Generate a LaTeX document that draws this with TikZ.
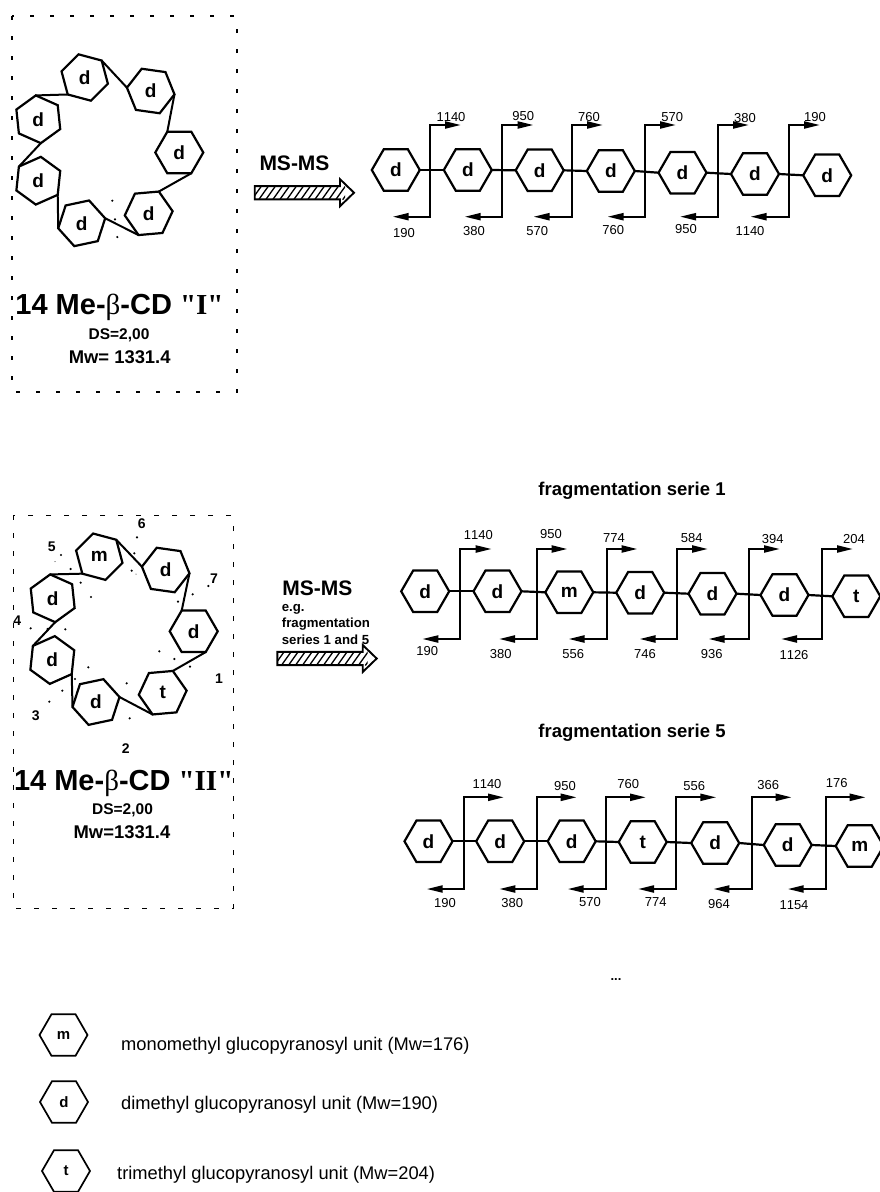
\documentclass[tikz,border=0pt]{standalone}
\usepackage{fontspec}
\setmainfont[Kerning=Off]{Liberation Sans}
\newfontfamily\serifbody{Liberation Serif}
\usetikzlibrary{shapes.geometric,arrows.meta}
\tikzset{
  hexa/.style={regular polygon,regular polygon sides=6,regular polygon rotate=#1,draw=black,line width=2.2pt,
    minimum size=48pt,inner sep=0pt,outer sep=0pt,font=\fontsize{19}{20}\bfseries\selectfont},
  hexa/.default=0,
  legendhex/.style={hexa,line width=1.7pt,font=\fontsize{15}{16}\bfseries\selectfont},
  link/.style={line width=2.2pt,line cap=round},
  branch/.style={line width=2.1pt,-{Triangle[length=16pt,width=7pt]}},
  num/.style={inner sep=0pt,font=\fontsize{13}{15}\selectfont},
  tag/.style={inner sep=0pt,font=\fontsize{14}{16}\bfseries\selectfont},
  maintitle/.style={inner sep=0pt,font=\fontsize{29}{31}\bfseries\selectfont},
  sub/.style={inner sep=0pt,font=\fontsize{15.5}{18}\bfseries\selectfont},
  mw/.style={inner sep=0pt,font=\fontsize{18.4}{20}\bfseries\selectfont},
  msms/.style={inner sep=0pt,font=\fontsize{21}{23}\bfseries\selectfont},
  small/.style={inner sep=0pt,anchor=west,font=\fontsize{13.2}{15}\bfseries\selectfont},
  head/.style={inner sep=0pt,font=\fontsize{18.5}{20}\bfseries\selectfont},
  legendtext/.style={inner sep=0pt,anchor=west,font=\fontsize{18.3}{20}\selectfont},
  ringlink/.style={line width=2pt,line cap=round},
  fat/.style={line width=1.9pt,line join=miter},
}
\newcommand{\mybeta}{{\serifbody\mdseries β}}
\newcommand{\ringlinks}[1]{%
  \draw[ringlink] (#1A.corner 1) -- (#1B.corner 3);
  \draw[ringlink] (#1B.corner 6) -- (#1C.corner 2);
  \draw[ringlink] (#1C.corner 5) -- (#1D.corner 1);
  \draw[ringlink] (#1D.corner 4) -- (#1E.corner 1);
  \draw[ringlink] (#1E.corner 4) -- (#1F.corner 6);
  \draw[ringlink] (#1F.corner 3) -- (#1G.corner 5);
  \draw[ringlink] (#1G.corner 2) -- (#1A.corner 4);
}
\begin{document}
\begin{tikzpicture}[x=1pt,y=-1pt]
\path[use as bounding box,fill=white] (0,0) rectangle (880,1192);

% dotted boxes
\draw[line width=2.2pt,dash pattern=on 4pt off 16pt] (12,16) rectangle (237,392);
\draw[line width=0.9pt,dash pattern=on 5pt off 13pt] (13,515) rectangle (233,908);

% ring I
\foreach \n/\x/\y/\r/\lett in {A/84.7/77.5/-15/d,B/150.7/91/-8/d,C/179.3/152.5/0/d,D/148.7/213.3/5/d,E/81.7/223.3/-48/d,F/38.3/180.7/-36/d,G/38.3/119.3/-24/d}
  \node[hexa=\r] (p\n) at (\x,\y) {\lett};
\ringlinks{p}
\foreach \x/\y in {112.3/200.7,115/219.3,117.3/237}
  \fill (\x,\y) circle (1.2);
\node[maintitle] (t1) at (119.5,307) {14 Me-\mybeta-CD {\serifbody "I"}};
\node[sub] (t1a) at (119,335) {DS=2,00};
\node[mw] (t1b) at (119.7,356.7) {Mw= 1331.4};

% ring II
\foreach \n/\x/\y/\r/\lett in {A/99.3/556.7/-15/m,B/165.7/570/-8/d,C/193.7/631.3/0/d,D/162.7/692.7/5/t,E/96/702/-48/d,F/52.3/660/-36/d,G/52.7/598.3/-24/d}
  \node[hexa=\r] (q\n) at (\x,\y) {\lett};
\ringlinks{q}
\foreach \x/\y in {183/165,212/207,242/248,273/291,411/112,403/160,395/212,578/283,625/258,534/305,478/454,523/477,570/500,380/550,389/655,265/502,225/537,187/572,148/605,92/385,143/387,196/388}
  \fill ({\x/3},{500+\y/3}) circle (1.2);
\foreach \x/\y in {165/185,408/222}
  \fill ({\x/3},{500+\y/3}) circle (0.5);
\foreach \n/\x/\y/\lett in {1/219/679/1,2/125.7/748.3/2,3/35.7/716/3,4/17.3/620.7/4,5/51.7/546.7/5,6/141.7/524/6,7/214/578.3/7}
  \node[tag] (k\n) at (\x,\y) {\lett};
\node[maintitle] (t2) at (123.7,783) {14 Me-\mybeta-CD {\serifbody "II"}};
\node[sub] (t2a) at (122.5,810) {DS=2,00};
\node[mw] (t2b) at (122,831.7) {Mw=1331.4};

% hatched arrows
\foreach \x/\y/\len in {254.7/192.7/85.3,277.3/658.5/85.4}{
  \begin{scope}
    \clip (\x,\y-6.6) rectangle (\x+\len+5,\y+6.6);
    \foreach \d in {0,7,...,98}
      \draw[line width=1.3pt] (\x+\d-3,\y+7) -- (\x+\d+7,\y-7);
  \end{scope}
  \draw[fat] (\x,\y-6.6) -- (\x+\len,\y-6.6) -- (\x+\len,\y-13.5) -- (\x+\len+14,\y) -- (\x+\len,\y+13.5) -- (\x+\len,\y+6.6) -- (\x,\y+6.6) -- cycle;
}
\node[msms] (m1) at (294.5,163) {MS-MS};
\node[msms] (m2) at (317.3,588) {MS-MS};
\node[small] (e1) at (281.7,609) {e.g.};
\node[small] (e2) at (281.7,624.3) {fragmentation};
\node[small] (e3) at (281.7,640) {series 1 and 5};

% chain 1
\foreach \n/\x/\y/\lett in {1/395.8/170/d,2/467.8/170/d,3/539.7/170.3/d,4/610.8/171/d,5/682.5/172.7/d,6/755/174/d,7/827.2/175.3/d}
  \node[hexa] (a\n) at (\x,\y) {\lett};
\foreach \i/\j in {1/2,2/3,3/4,4/5,5/6,6/7}
  \draw[link] (a\i.east) -- (a\j.west);
\foreach \n/\x/\tx/\bx in {1/430.3/461/392.7,2/502.3/533.5/464.7,3/571.7/603/533.5,4/645.3/676/607.5,5/717.7/749/680,6/789/820/750.5}{
  \coordinate (au\n) at (\x,125);
  \coordinate (ad\n) at (\x,216.7);
  \coordinate (ar\n) at (\tx,125);
  \coordinate (al\n) at (\bx,216.7);
  \draw[branch] (au\n) -- (ar\n);
  \draw[branch] (ad\n) -- (al\n);
  \draw[line width=2.1pt,line cap=rect] (au\n) -- (ad\n);
}
\foreach \n/\x/\y/\lett in {1/451/116.7/1140,2/523.3/116/950,3/589/116.7/760,4/672.3/117/570,5/745/117.7/380,6/815/116.7/190,7/404/233.3/190,8/474/231/380,9/537.3/231/570,10/613.3/230/760,11/686/229/950,12/750/231/1140}
  \node[num] (an\n) at (\x,\y) {\lett};

% chain 2
\node[head] (h1) at (632,491) {fragmentation serie 1};
\foreach \n/\x/\y/\lett in {1/425.2/591.3/d,2/497.5/591.3/d,3/569.3/592.3/m,4/640.2/592.7/d,5/712.5/593.7/d,6/784.5/595/d,7/856.3/596.3/t}
  \node[hexa] (b\n) at (\x,\y) {\lett};
\foreach \i/\j in {1/2,2/3,3/4,4/5,5/6,6/7}
  \draw[link] (b\i.east) -- (b\j.west);
\foreach \n/\x/\tx/\bx in {1/460.3/491.7/422.3,2/536.7/567.5/499,3/606.7/637.5/568.5,4/677.3/708/639.5,5/749/780/708.5,6/821.7/853/781}{
  \coordinate (bu\n) at (\x,549);
  \coordinate (bd\n) at (\x,639);
  \coordinate (br\n) at (\tx,549);
  \coordinate (bl\n) at (\bx,639);
  \draw[branch] (bu\n) -- (br\n);
  \draw[branch] (bd\n) -- (bl\n);
  \draw[line width=2.1pt,line cap=rect] (bu\n) -- (bd\n);
}
\foreach \n/\x/\y/\lett in {1/478.3/535.3/1140,2/551/534.3/950,3/614/538/774,4/691.7/538.3/584,5/772.7/539/394,6/854/539.3/204,7/427.3/651.3/190,8/500.7/654.3/380,9/573.3/654.3/556,10/645/654/746,11/711.7/654/936,12/794/655/1126}
  \node[num] (bn\n) at (\x,\y) {\lett};

% chain 3
\node[head] (h2) at (632,733) {fragmentation serie 5};
\foreach \n/\x/\y/\lett in {1/428.5/841.3/d,2/500.2/841.3/d,3/571.7/841.3/d,4/642.7/842/t,5/715.2/843/d,6/787.7/845/d,7/859.7/846/m}
  \node[hexa] (c\n) at (\x,\y) {\lett};
\foreach \i/\j in {1/2,2/3,3/4,4/5,5/6,6/7}
  \draw[link] (c\i.east) -- (c\j.west);
\foreach \n/\x/\tx/\bx in {1/463.7/504/426.7,2/536.7/576.7/499.3,3/605.7/646/567.7,4/675.7/716.3/638,5/751.7/791.7/713.3,6/825.7/865.7/787.7}{
  \coordinate (cu\n) at (\x,797.3);
  \coordinate (cd\n) at (\x,889);
  \coordinate (cr\n) at (\tx,797.3);
  \coordinate (cl\n) at (\bx,889);
  \draw[branch] (cu\n) -- (cr\n);
  \draw[branch] (cd\n) -- (cl\n);
  \draw[line width=2.1pt,line cap=rect] (cu\n) -- (cd\n);
}
\foreach \n/\x/\y/\lett in {1/487/783.7/1140,2/565/785.7/950,3/628.3/783.7/760,4/694.3/785.7/556,5/768.3/785/366,6/836.7/783/176,7/445/903.3/190,8/512.3/903/380,9/590/902/570,10/655.7/902/774,11/719/903.7/964,12/794/905.3/1154}
  \node[num] (cn\n) at (\x,\y) {\lett};

\node[inner sep=0pt,font=\fontsize{13}{15}\bfseries\selectfont] (dots) at (616,980) {...};

% legend
\node[legendhex] (lm) at (63.5,1035) {m};
\node[legendhex] (ld) at (64,1102) {d};
\node[legendhex] (lt) at (66,1171) {t};
\node[legendtext] (lmt) at (121,1046) {monomethyl glucopyranosyl unit (Mw=176)};
\node[legendtext] (ldt) at (121,1105) {dimethyl glucopyranosyl unit (Mw=190)};
\node[legendtext] (ltt) at (117,1175) {trimethyl glucopyranosyl unit (Mw=204)};
\end{tikzpicture}
\end{document}
